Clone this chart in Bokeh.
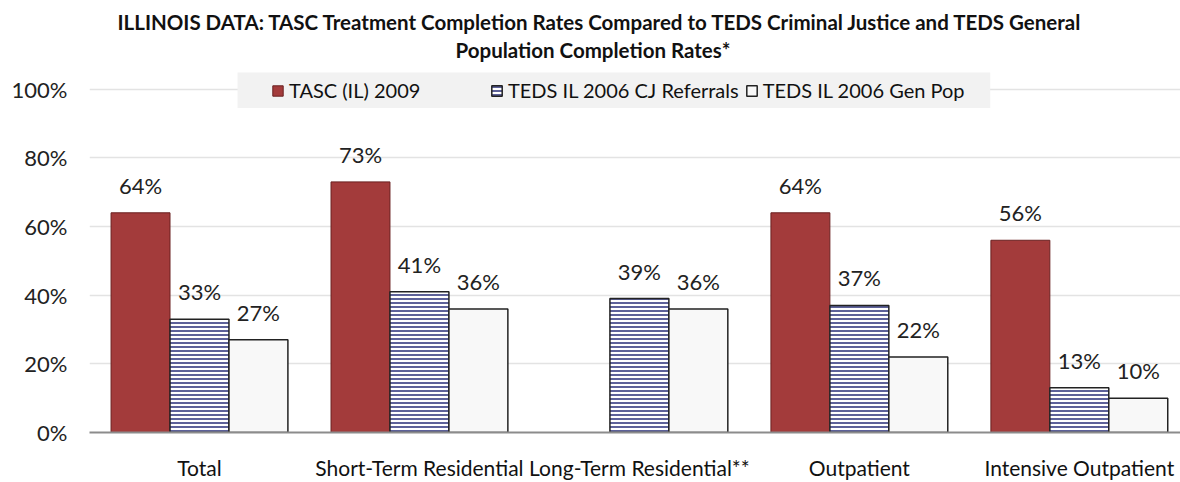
from bokeh.plotting import figure
from bokeh.models import ColumnDataSource, FixedTicker, Legend, LegendItem, Title, BoxAnnotation
from bokeh.transform import dodge
from bokeh.core.properties import value
from bokeh.embed import file_html
from bokeh.resources import INLINE

categories = ["Total", "Short-Term Residential", "Long-Term Residential**", "Outpatient", "Intensive Outpatient"]
series_names = ["TASC (IL) 2009", "TEDS IL 2006 CJ Referrals", "TEDS IL 2006 Gen Pop"]
tasc_2009 = [64, 73, None, 64, 56]
teds_cj = [33, 41, 39, 37, 13]
teds_gen = [27, 36, 36, 22, 10]
y_ticks = [0, 20, 40, 60, 80, 100]

FONT = "Lato"
idx = list(range(len(categories)))

p = figure(width=1180, height=482, x_range=(-0.5, 4.46), y_range=(0, 107.2),
           output_backend="svg", toolbar_location=None,
           min_border_left=89, min_border_right=0, min_border_top=64, min_border_bottom=0)
p.outline_line_color = None
p.background_fill_color = "white"

t2 = Title(text="Population Completion Rates*", align="left", text_font=FONT,
           text_font_size="20.5px", text_font_style="bold", text_color="#111111", offset=366, standoff=5)
t1 = Title(text="ILLINOIS DATA:  TASC Treatment Completion Rates Compared to TEDS Criminal Justice and TEDS General",
           align="left", text_font=FONT, text_font_size="20.5px", text_font_style="bold",
           text_color="#111111", offset=28, standoff=0)
p.add_layout(t2, "above")
p.add_layout(t1, "above")

# legend background panel (decoration)
p.add_layout(BoxAnnotation(left=0.173, right=3.595, bottom=94.5, top=104.9, fill_color="#F2F2F2",
                           fill_alpha=1.0, line_color=None, level="underlay"))

w = 0.268
offsets = [-w, 0.0, w]
data_sets = [tasc_2009, teds_cj, teds_gen]
renderers = []
for k, (vals, off) in enumerate(zip(data_sets, offsets)):
    top = [float("nan") if v is None else v for v in vals]
    lab = ["" if v is None else f"{v}%" for v in vals]
    src = ColumnDataSource(dict(x=idx, top=top, lab=lab))
    xd = dodge("x", off)
    if k == 0:
        r = p.vbar(x=xd, top="top", width=w, source=src, fill_color="#A33B3B",
                   line_color="#6A2020", line_width=1)
    elif k == 1:
        r = p.vbar(x=xd, top="top", width=w, source=src, fill_color="white",
                   hatch_pattern="horizontal_line", hatch_color="#5D6199", hatch_scale=4,
                   hatch_weight=2, line_color="#222222", line_width=1.5)
    else:
        r = p.vbar(x=xd, top="top", width=w, source=src, fill_color="#F8F8F8",
                   line_color="#222222", line_width=1.5)
    renderers.append(r)
    p.text(x=xd, y="top", text="lab", source=src, text_align="center", text_baseline="bottom",
           y_offset=-14, text_font=value(FONT), text_font_size="22px", text_color="#222222")

legend = Legend(items=[LegendItem(label=n, renderers=[r]) for n, r in zip(series_names, renderers)],
                orientation="horizontal", location=(182, 330),
                background_fill_alpha=0.0, border_line_color=None,
                label_text_font=FONT, label_text_font_size="20px",
                label_text_color="#111111", glyph_width=13, glyph_height=13,
                spacing=6, padding=4, margin=0, label_standoff=5, label_width=195)
p.add_layout(legend, "center")

p.xaxis.ticker = FixedTicker(ticks=idx)
p.xaxis.major_label_overrides = {i: c for i, c in enumerate(categories)}
p.xaxis.major_label_text_font = FONT
p.xaxis.major_label_text_font_size = "21px"
p.xaxis.major_label_text_color = "#111111"
p.xaxis.major_label_standoff = 22
p.xaxis.axis_line_color = "#8C8C8C"
p.xaxis.axis_line_width = 2
p.xaxis.major_tick_line_color = None
p.xaxis.minor_tick_line_color = None
p.xaxis.major_tick_out = 0
p.xaxis.major_tick_in = 0

p.yaxis.ticker = FixedTicker(ticks=y_ticks)
p.yaxis.major_label_overrides = {v: f"{v}%" for v in y_ticks}
p.yaxis.major_label_text_font = FONT
p.yaxis.major_label_text_font_size = "22px"
p.yaxis.major_label_text_color = "#222222"
p.yaxis.major_label_standoff = 22
p.yaxis.axis_line_color = None
p.yaxis.major_tick_line_color = None
p.yaxis.minor_tick_line_color = None
p.yaxis.major_tick_out = 0
p.yaxis.major_tick_in = 0

p.xgrid.grid_line_color = None
p.ygrid.ticker = FixedTicker(ticks=y_ticks[1:])
p.ygrid.grid_line_color = "#E3E3E3"
p.ygrid.grid_line_width = 1.5

open("out.html", "w").write(file_html(p, INLINE))
